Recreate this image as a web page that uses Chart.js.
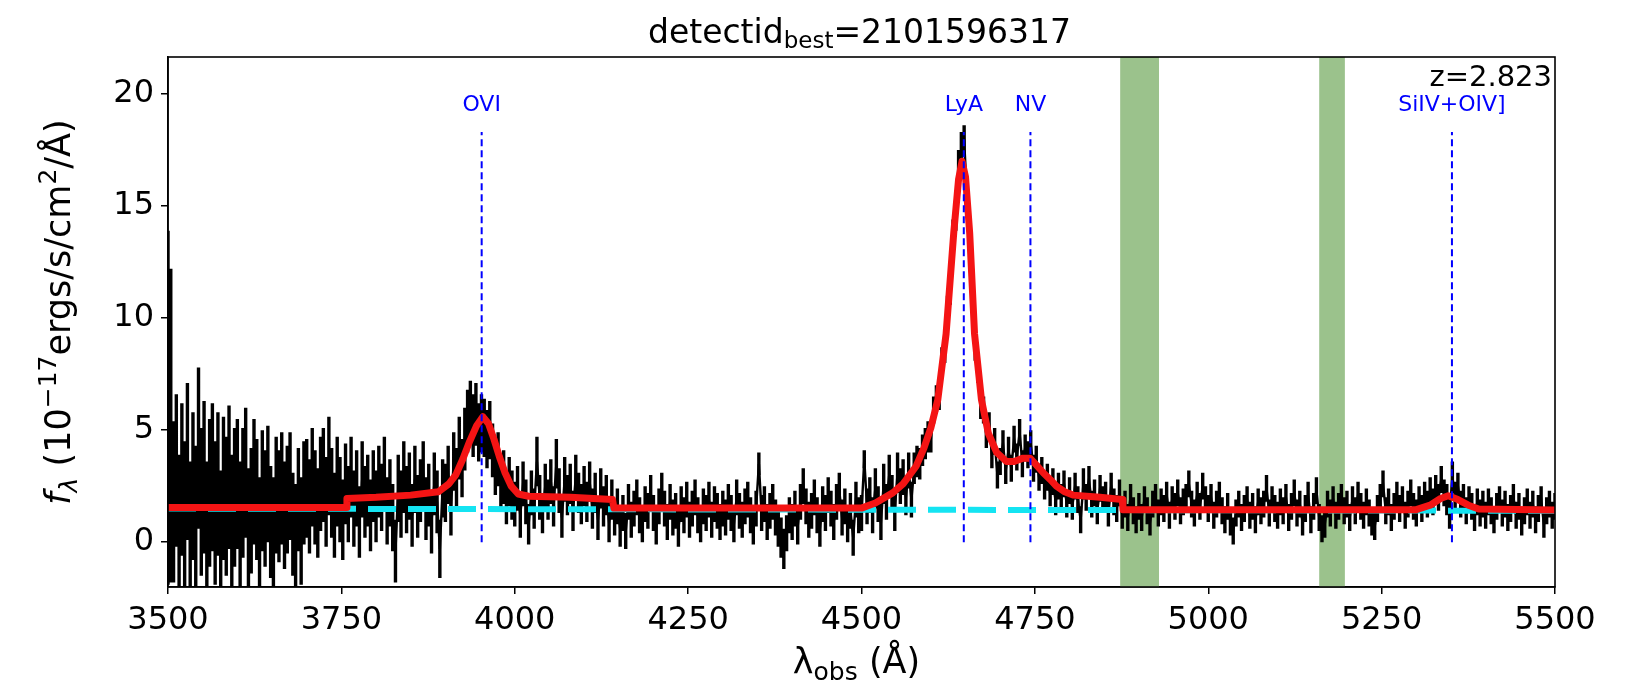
<!DOCTYPE html>
<html>
<head>
<meta charset="utf-8">
<script src="https://cdn.jsdelivr.net/npm/chart.js@4.4.0/dist/chart.umd.min.js"></script>
<style>
  html, body { margin: 0; padding: 0; background: #ffffff; }
  #wrap { width: 1634px; height: 692px; }
</style>
</head>
<body>
<div id="wrap"><canvas id="spec" width="1634" height="692"></canvas></div>
<script>
// Observed spectrum: sampled every 4 Å from 3500 Å, flux in 1e-17 erg/s/cm^2/Å
const waveStart = 3500;
const waveStep = 4;
const flux = [
  6.0, 5.2, 1.8, 3.2, 0.6, 2.8, 1.2, 3.6, 0.4, 2.5, 1.0, 4.2, 1.8, 2.9, 0.5, 2.2, 2.9, 1.3, 2.6, 0.2, 2.4, 1.6, 2.9, 0.9, 2.0,
  2.6, 0.8, 2.2, 3.1, 0.6, 1.4, 2.7, 1.9, 0.3, 2.3, 1.5, 2.6, 0.9, 0.4, 2.1, 1.6, 2.4, 1.2, 1.9, 2.5, 0.8, 0.3, 1.9, 0.5, 2.2,
  2.4, 1.6, 2.9, 2.0, 1.3, 2.6, 3.0, 1.8, 3.4, 2.2, 1.2, 2.7, 1.9, 1.0, 2.6, 1.7, 2.9, 1.5, 2.4, 0.9, 2.8, 1.8, 2.3, 1.2, 2.5,
  1.6, 2.7, 2.0, 3.1, 1.4, 2.2, 1.1, -0.4, 2.4, 1.7, 2.9, 1.9, 2.5, 1.2, 2.8, 1.6, 2.3, 3.0, 1.5, 2.1, 0.9, 2.6, 1.8, -0.3, 2.4,
  2.2, 3.0, 1.6, 3.6, 2.9, 4.2, 3.3, 4.6, 5.4, 5.8, 5.2, 5.7, 4.9, 5.3, 5.1, 4.6, 5.0, 4.1, 3.3, 3.7, 2.6, 2.9, 1.9, 2.7, 2.1,
  1.7, 2.4, 1.2, 2.6, 1.8, 0.8, 2.2, 1.5, 3.6, 2.0, 1.3, 2.5, 1.9, 2.7, 1.6, 3.5, 2.3, 1.1, 2.8, 2.1, 2.6, 1.4, 2.9, 2.2, 1.7,
  2.5, 1.8, 2.7, 1.5, 2.2, 1.0, 2.4, 1.6, 2.1, 0.9, 1.9, 1.1, 1.6, 0.6, 1.3, 0.5, 1.8, 1.0, 1.5, 2.0, 1.2, 0.8, 1.7, 1.4, 2.2,
  1.3, 0.7, 1.6, 2.3, 1.5, 0.9, 1.8, 1.1, 1.4, 0.6, 1.7, 1.2, 1.9, 1.0, 1.5, 2.0, 1.2, 0.8, 1.6, 1.3, 1.9, 1.0, 1.7, 1.4, 0.9,
  1.5, 1.1, 1.8, 1.3, 0.8, 2.0, 1.4, 1.0, 1.6, 1.9, 1.2, 0.7, 1.5, 3.5, 1.3, 1.7, 0.9, 1.4, 1.8, 1.1, 0.6, 0.2, -0.3, 0.4, 1.2,
  0.9, 1.5, 0.7, 1.8, 2.5, 1.6, 1.0, 1.4, 2.0, 1.2, 0.6, 1.7, 1.3, 2.1, 1.5, 0.9, 1.8, 2.3, 1.1, 1.6, 0.8, 1.4, 0.2, 1.9, 1.2,
  1.3, 3.7, 1.6, 2.1, 1.2, 2.4, 1.7, 0.9, 2.6, 1.8, 3.0, 2.2, 1.4, 3.1, 2.5, 2.9, 2.0, 3.2, 1.9, 3.3, 3.6, 3.5, 4.1, 4.4, 4.7,
  4.6, 5.9, 6.4, 6.5, 8.1, 8.6, 10.4, 11.3, 13.7, 14.6, 16.8, 17.5, 17.9, 15.6, 13.3, 11.5, 8.7, 7.7, 6.1, 5.9, 4.8, 5.2, 3.9, 4.5, 3.0,
  3.6, 4.4, 3.2, 4.1, 3.3, 4.6, 3.8, 4.9, 3.5, 4.2, 3.9, 4.4, 3.3, 3.7, 2.9, 3.2, 2.5, 2.9, 2.2, 2.7, 1.8, 2.5, 2.0, 2.6, 1.7,
  2.3, 1.6, 2.5, 1.9, 1.0, 2.6, 2.0, 2.8, 1.7, 2.2, 1.4, 2.4, 1.9, 2.1, 1.3, 2.5, 1.8, 1.5, 2.2, 1.2, 1.7, 1.1, 2.0, 1.4, 1.0,
  1.6, 1.1, 1.9, 1.4, 0.9, 1.7, 2.0, 1.3, 1.8, 1.5, 2.1, 1.2, 1.9, 1.6, 2.2, 1.4, 1.8, 2.0, 2.6, 1.7, 1.3, 2.1, 1.6, 2.5, 1.9,
  1.5, 2.0, 1.2, 1.7, 2.1, 1.4, 1.0, 1.6, 0.9, 0.5, 1.3, 1.7, 1.1, 1.5, 1.9, 1.2, 1.6, 1.0, 1.8, 1.4, 1.7, 2.4, 1.3, 1.9, 1.5,
  1.2, 1.8, 1.4, 2.0, 1.1, 1.6, 2.2, 1.3, 1.7, 0.9, 1.5, 2.1, 1.0, 1.6, 2.3, 1.1, 0.6, 0.8, 1.7, 1.3, 1.9, 1.2, 1.6, 2.0, 1.4,
  1.7, 1.1, 1.9, 1.4, 2.1, 1.6, 1.2, 1.8, 1.3, 0.9, 0.7, 1.5, 2.0, 2.6, 1.4, 1.8, 1.1, 1.6, 2.1, 1.5, 1.9, 1.2, 1.7, 2.2, 1.6,
  1.3, 1.9, 1.5, 2.1, 1.7, 2.3, 1.8, 2.4, 2.0, 2.8, 2.2, 1.9, 1.3, 2.9, 2.1, 2.5, 1.7, 2.0, 1.4, 1.9, 1.6, 1.1, 1.8, 1.3, 1.7,
  1.2, 1.8, 1.4, 1.0, 1.6, 1.9, 1.3, 1.7, 1.1, 1.5, 2.0, 1.2, 1.6, 0.9, 1.4, 1.8, 1.2, 1.7, 1.0, 1.5, 1.9, 0.8, 1.4, 1.7, 1.2,
  1.6
];
const fluxErr = [
  7.9, 7.0, 3.6, 3.4, 3.3, 3.4, 3.3, 3.5, 3.2, 3.3, 3.3, 3.6, 3.3, 3.4, 3.1, 3.3, 3.3, 3.2, 3.2, 3.0, 3.2, 3.1, 3.2, 3.0, 3.1,
  2.9, 2.8, 2.9, 2.9, 2.7, 2.8, 2.8, 2.7, 2.6, 2.7, 2.6, 2.6, 2.5, 2.5, 2.6, 2.5, 2.5, 2.4, 2.4, 2.4, 2.3, 2.3, 2.3, 2.4, 2.3,
  2.2, 2.1, 2.2, 2.1, 2.0, 2.1, 2.1, 2.0, 2.2, 2.0, 1.9, 2.0, 1.9, 1.8, 1.8, 1.7, 1.8, 1.7, 1.7, 1.6, 1.7, 1.6, 1.6, 1.6, 1.6,
  1.6, 1.6, 1.5, 1.6, 1.5, 1.5, 1.5, 1.4, 1.5, 1.5, 1.6, 1.5, 1.5, 1.4, 1.5, 1.4, 1.4, 1.5, 1.4, 1.4, 1.4, 1.4, 1.4, 1.3, 1.3,
  1.3, 1.3, 1.3, 1.3, 1.3, 1.4, 1.3, 1.4, 1.4, 1.4, 1.4, 1.4, 1.3, 1.3, 1.3, 1.3, 1.3, 1.2, 1.2, 1.2, 1.2, 1.2, 1.1, 1.1, 1.1,
  1.0, 1.0, 1.0, 1.0, 1.0, 0.9, 1.0, 0.9, 1.1, 1.0, 0.9, 1.0, 0.9, 1.0, 0.9, 1.1, 1.0, 0.9, 1.0, 0.9, 0.9, 0.9, 1.0, 0.9, 0.9,
  0.9, 0.9, 0.9, 0.9, 0.9, 0.9, 0.9, 0.9, 0.9, 0.9, 0.9, 0.8, 0.8, 0.8, 0.8, 0.8, 0.8, 0.8, 0.8, 0.8, 0.8, 0.8, 0.8, 0.8, 0.8,
  0.8, 0.8, 0.8, 0.8, 0.8, 0.8, 0.8, 0.8, 0.8, 0.8, 0.8, 0.8, 0.8, 0.8, 0.8, 0.8, 0.8, 0.8, 0.8, 0.8, 0.8, 0.8, 0.8, 0.8, 0.8,
  0.8, 0.8, 0.8, 0.8, 0.8, 0.8, 0.8, 0.8, 0.8, 0.8, 0.8, 0.8, 0.8, 0.5, 0.8, 0.8, 0.8, 0.8, 0.8, 0.8, 0.8, 0.9, 0.9, 0.8, 0.8,
  0.8, 0.8, 0.8, 0.8, 0.8, 0.8, 0.8, 0.8, 0.8, 0.8, 0.8, 0.8, 0.8, 0.8, 0.8, 0.8, 0.8, 0.8, 0.8, 0.8, 0.8, 0.8, 0.8, 0.8, 0.8,
  0.8, 0.4, 0.8, 0.8, 0.8, 0.9, 0.8, 0.8, 0.9, 0.8, 0.9, 0.8, 0.9, 0.9, 0.8, 0.8, 0.8, 0.8, 0.8, 0.7, 0.7, 0.7, 0.7, 0.7, 0.7,
  0.6, 0.6, 0.6, 0.6, 0.6, 0.6, 0.6, 0.7, 0.7, 0.7, 0.7, 0.8, 0.7, 0.7, 0.7, 0.7, 0.6, 0.6, 0.6, 0.6, 0.6, 0.6, 0.6, 0.6, 0.6,
  0.6, 0.6, 0.6, 0.6, 0.6, 0.6, 0.6, 0.6, 0.6, 0.6, 0.6, 0.6, 0.6, 0.6, 0.6, 0.6, 0.6, 0.6, 0.6, 0.6, 0.6, 0.6, 0.6, 0.6, 0.6,
  0.6, 0.6, 0.6, 0.6, 0.6, 0.7, 0.6, 0.6, 0.6, 0.6, 0.6, 0.6, 0.6, 0.6, 0.6, 0.6, 0.6, 0.6, 0.6, 0.6, 0.6, 0.6, 0.6, 0.6, 0.6,
  0.6, 0.6, 0.6, 0.6, 0.6, 0.6, 0.6, 0.6, 0.6, 0.6, 0.6, 0.6, 0.6, 0.6, 0.6, 0.6, 0.6, 0.6, 0.6, 0.6, 0.6, 0.6, 0.6, 0.6, 0.6,
  0.6, 0.6, 0.6, 0.6, 0.6, 0.6, 0.6, 0.6, 0.6, 0.6, 0.6, 0.6, 0.6, 0.6, 0.6, 0.6, 0.6, 0.6, 0.6, 0.6, 0.6, 0.6, 0.6, 0.6, 0.6,
  0.6, 0.6, 0.6, 0.6, 0.6, 0.6, 0.6, 0.6, 0.6, 0.6, 0.6, 0.6, 0.6, 0.6, 0.6, 0.6, 0.6, 0.6, 0.6, 0.6, 0.6, 0.6, 0.6, 0.6, 0.6,
  0.6, 0.6, 0.6, 0.6, 0.6, 0.6, 0.6, 0.6, 0.6, 0.6, 0.6, 0.6, 0.6, 0.6, 0.6, 0.6, 0.6, 0.6, 0.6, 0.6, 0.6, 0.6, 0.6, 0.6, 0.6,
  0.6, 0.6, 0.6, 0.6, 0.6, 0.6, 0.6, 0.6, 0.6, 0.6, 0.6, 0.7, 0.7, 0.7, 0.6, 0.6, 0.6, 0.6, 0.6, 0.6, 0.6, 0.6, 0.6, 0.6, 0.6,
  0.6, 0.6, 0.6, 0.6, 0.6, 0.6, 0.6, 0.6, 0.6, 0.6, 0.6, 0.6, 0.6, 0.6, 0.6, 0.6, 0.6, 0.6, 0.6, 0.6, 0.6, 0.6, 0.6, 0.6, 0.6,
  0.6
];

// Best-fit model (continuum + emission lines)
const modelWave = [3500, 3757, 3758, 3800, 3850, 3890, 3905, 3915, 3925, 3935, 3945, 3954, 3962, 3970, 3978, 3986, 3995, 4005,
  4020, 4080, 4141, 4143, 4500, 4520, 4545, 4560, 4579, 4590, 4600, 4610, 4622, 4633, 4640, 4645, 4650, 4656, 4663, 4673, 4683,
  4695, 4709, 4720, 4733, 4743, 4752, 4762, 4772, 4781, 4793, 4805, 4844, 4876, 4877, 5300, 5320, 5335, 5346, 5360, 5375, 5390, 5500];
const modelFlux = [1.55, 1.55, 1.95, 2.0, 2.1, 2.25, 2.6, 3.0, 3.7, 4.5, 5.2, 5.6, 5.3, 4.6, 3.8, 3.1, 2.5, 2.15,
  2.05, 2.0, 1.9, 1.52, 1.52, 1.75, 2.2, 2.6, 3.4, 4.2, 5.1, 6.35, 9.3, 13.8, 16.2, 17.0, 16.3, 13.8, 9.3, 6.35, 4.85,
  4.0, 3.6, 3.6, 3.75, 3.75, 3.45, 3.1, 2.8, 2.5, 2.25, 2.1, 2.0, 1.9, 1.45, 1.45, 1.65, 1.95, 2.07, 1.9, 1.65, 1.48, 1.44];

// Continuum level
const contWave = [3500, 5500];
const contFlux = [1.50, 1.40];

// Emission lines at z = 2.823
const redshiftText = '2.823';
const lineNames = ['OVI', 'LyA', 'NV', 'SiIV+OIV]'];
const lineWaves = [3952.3, 4647.5, 4743.6, 5351.4];

// Masked wavelength ranges
const maskStart = [4873, 5160];
const maskEnd = [4929, 5197];

// Axis ticks
const xTicks = [3500, 3750, 4000, 4250, 4500, 4750, 5000, 5250, 5500];
const yTicks = [0, 5, 10, 15, 20];

const detectId = '2101596317';

const FONT = "'DejaVu Sans', sans-serif";

const specPoints = flux.map((f, i) => ({ x: waveStart + i * waveStep, y: f }));
const modelPoints = modelWave.map((w, i) => ({ x: w, y: modelFlux[i] }));
const contPoints = contWave.map((w, i) => ({ x: w, y: contFlux[i] }));
const lineSets = lineWaves.map((w, i) => ({
  label: lineNames[i],
  data: [{ x: w, y: 0 }, { x: w, y: 18.3 }],
  borderColor: '#0000ff',
  borderWidth: 2,
  borderDash: [7, 4],
  borderCapStyle: 'butt',
  pointRadius: 0,
  order: 0
}));

// vertical error bars on the spectrum
const errorBars = {
  id: 'errorBars',
  afterDatasetDraw(chart, args) {
    const ds = chart.data.datasets[args.index];
    if (!ds.errors) return;
    const { ctx, chartArea: a, scales: { x, y } } = chart;
    ctx.save();
    ctx.beginPath();
    ctx.rect(a.left, a.top, a.right - a.left, a.bottom - a.top);
    ctx.clip();
    ctx.strokeStyle = '#000000';
    ctx.lineWidth = 3.4;
    ctx.beginPath();
    ds.data.forEach((p, i) => {
      const px = x.getPixelForValue(p.x);
      ctx.moveTo(px, y.getPixelForValue(p.y - ds.errors[i]));
      ctx.lineTo(px, y.getPixelForValue(p.y + ds.errors[i]));
    });
    ctx.stroke();
    ctx.restore();
  }
};

// shaded masked regions
const maskBands = {
  id: 'maskBands',
  beforeDatasetsDraw(chart) {
    const { ctx, chartArea: a, scales: { x } } = chart;
    ctx.save();
    ctx.fillStyle = '#9bc28c';
    maskStart.forEach((s, i) => {
      const x0 = x.getPixelForValue(s);
      const x1 = x.getPixelForValue(maskEnd[i]);
      ctx.fillRect(x0, a.top, x1 - x0, a.bottom - a.top);
    });
    ctx.restore();
  }
};

function richText(ctx, segs, x, y, align) {
  let total = 0;
  segs.forEach(s => {
    ctx.font = (s.italic ? 'italic ' : '') + s.size + 'px ' + FONT;
    s.w = ctx.measureText(s.t).width;
    total += s.w;
  });
  let cx = align === 'center' ? x - total / 2 : (align === 'right' ? x - total : x);
  ctx.textAlign = 'left';
  segs.forEach(s => {
    ctx.font = (s.italic ? 'italic ' : '') + s.size + 'px ' + FONT;
    ctx.fillText(s.t, cx, y + (s.dy || 0));
    cx += s.w;
  });
}

// frame, title, labels and annotations
const annotations = {
  id: 'annotations',
  afterDraw(chart) {
    const { ctx, chartArea: a, scales: { x, y } } = chart;
    ctx.save();
    ctx.strokeStyle = '#000000';
    ctx.lineWidth = 1.6;
    ctx.strokeRect(a.left, a.top, a.right - a.left, a.bottom - a.top);

    ctx.fillStyle = '#0000ff';
    ctx.textBaseline = 'alphabetic';
    ctx.textAlign = 'center';
    ctx.font = '22px ' + FONT;
    lineNames.forEach((n, i) => {
      ctx.fillText(n, x.getPixelForValue(lineWaves[i]), y.getPixelForValue(19.25));
    });

    ctx.fillStyle = '#000000';
    ctx.textAlign = 'right';
    ctx.font = '29px ' + FONT;
    ctx.fillText('z=' + redshiftText, a.right - 3, y.getPixelForValue(20.35));

    const mid = (a.left + a.right) / 2;
    richText(ctx, [
      { t: 'detectid', size: 33 },
      { t: 'best', size: 23, dy: 4.5 },
      { t: '=' + detectId, size: 33 }
    ], mid - 2, 43, 'center');

    richText(ctx, [
      { t: 'λ', size: 35 },
      { t: 'obs', size: 25, dy: 7 },
      { t: ' (Å)', size: 35 }
    ], mid - 5, 673, 'center');

    ctx.translate(70, (a.top + a.bottom) / 2 - 10);
    ctx.rotate(-Math.PI / 2);
    richText(ctx, [
      { t: 'f', size: 35, italic: true },
      { t: 'λ', size: 25, italic: true, dy: 7 },
      { t: ' (10', size: 35 },
      { t: '−17', size: 25, dy: -14 },
      { t: 'ergs/s/cm', size: 35 },
      { t: '2', size: 25, dy: -14 },
      { t: '/Å)', size: 35 }
    ], 0, 0, 'center');
    ctx.restore();
  }
};

new Chart(document.getElementById('spec'), {
  type: 'line',
  data: {
    datasets: [
      ...lineSets,
      {
        label: 'model',
        data: modelPoints,
        borderColor: '#f41414',
        borderWidth: 7,
        borderJoinStyle: 'round',
        pointRadius: 0,
        order: 1
      },
      {
        label: 'continuum',
        data: contPoints,
        borderColor: '#14e4f2',
        borderWidth: 6,
        borderDash: [28, 12],
        borderCapStyle: 'butt',
        pointRadius: 0,
        order: 2
      },
      {
        label: 'spectrum',
        data: specPoints,
        errors: fluxErr,
        borderColor: '#000000',
        borderWidth: 2.4,
        pointRadius: 0,
        order: 3
      }
    ]
  },
  options: {
    responsive: false,
    animation: false,
    devicePixelRatio: 1,
    layout: { padding: { top: 57, right: 79, left: 0, bottom: 0 } },
    plugins: { legend: { display: false }, tooltip: { enabled: false }, title: { display: false } },
    scales: {
      x: {
        type: 'linear',
        min: 3500,
        max: 5500,
        afterBuildTicks: s => { s.ticks = xTicks.map(v => ({ value: v })); },
        afterFit: s => { s.height = 105; },
        ticks: {
          autoSkip: false,
          maxRotation: 0,
          padding: 7,
          color: '#000000',
          font: { family: FONT, size: 32 },
          callback: v => String(v)
        },
        grid: { display: true, drawOnChartArea: false, drawTicks: true, tickLength: 7, color: '#000000', lineWidth: 1.5 },
        border: { display: true, color: '#000000', width: 1.6 }
      },
      y: {
        type: 'linear',
        min: -2,
        max: 21.65,
        afterBuildTicks: s => { s.ticks = yTicks.map(v => ({ value: v })); },
        afterFit: s => { s.width = 168; },
        ticks: {
          padding: 7,
          color: '#000000',
          font: { family: FONT, size: 32 },
          callback: v => String(v)
        },
        grid: { display: true, drawOnChartArea: false, drawTicks: true, tickLength: 7, color: '#000000', lineWidth: 1.5 },
        border: { display: true, color: '#000000', width: 1.6 }
      }
    }
  },
  plugins: [maskBands, errorBars, annotations]
});
</script>
</body>
</html>
